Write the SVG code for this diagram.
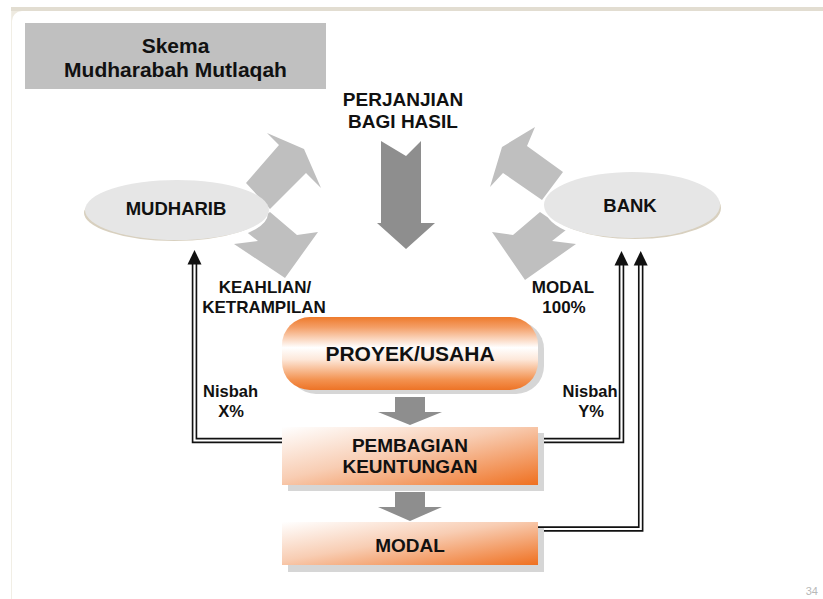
<svg xmlns="http://www.w3.org/2000/svg" xmlns:xlink="http://www.w3.org/1999/xlink" width="823" height="599" viewBox="0 0 823 599">
<style>
text{font-family:"Liberation Sans",Arial,Helvetica,sans-serif;font-weight:bold;fill:#111;text-anchor:middle}
.t21{font-size:21px}
.t19{font-size:19px}
.t185{font-size:18.5px}
.t17{font-size:17px}
.t165{font-size:16.5px}
.side{fill:#bfbfbf}
.dark{fill:#8e8e8e}
.dl-o{fill:none;stroke:#111;stroke-width:5.5;stroke-linejoin:miter}
.dl-i{fill:none;stroke:#fff;stroke-width:2.2;stroke-linejoin:miter}
.shadow{fill:#d6d6d6}
.rim{fill:#d8d0bf;stroke:#fff;stroke-width:4}
.disc{fill:#e6e6e6}
</style>
<defs>
<linearGradient id="pill" x1="0" y1="0" x2="0" y2="1">
<stop offset="0" stop-color="#ee7a2c"/>
<stop offset="0.14" stop-color="#f49e66"/>
<stop offset="0.42" stop-color="#ffffff"/>
<stop offset="0.58" stop-color="#fde8da"/>
<stop offset="0.86" stop-color="#f39250"/>
<stop offset="1" stop-color="#ed7326"/>
</linearGradient>
<linearGradient id="box" x1="0" y1="0" x2="1" y2="1">
<stop offset="0" stop-color="#ffffff"/>
<stop offset="0.45" stop-color="#f8cdb3"/>
<stop offset="1" stop-color="#ef7020"/>
</linearGradient>
<path id="ah" d="M0,0 L7,14.5 L-7,14.5 Z" fill="#111"/>
</defs>

<rect width="823" height="599" fill="#fff"/>
<rect x="11" y="7" width="812" height="4" fill="#e2ddd1"/>
<rect x="11" y="11" width="1" height="588" fill="#f1eee5"/>
<path d="M12,11 H22 A10,10 0 0 0 12,21 Z" fill="#eeeae0"/>
<text x="818" y="595" style="font-size:11px;font-weight:normal;fill:#b8b8b8;text-anchor:end">34</text>

<g id="title">
<rect x="25" y="23" width="301" height="66" fill="#c0c0c0"/>
<text class="t21" x="175.5" y="53">Skema</text>
<text class="t21" x="175.5" y="77">Mudharabah Mutlaqah</text>
</g>

<g id="connectors">
<polygon class="side" points="246,183 279,145 267,133 304,149 321,188 306,173 270,209"/>
<polygon class="side" points="270,212 297,235 318,232 285,278 234,244 258,241 244,230"/>
<polygon class="side" points="563,172 527,146 535,127 502,147 490,187 503,173 542,200"/>
<polygon class="side" points="540,212 513,235 492,232 525,280 576,244 552,241 566,230"/>
<polygon class="dark" points="381,141 406,156 421,141 421,223 435,223 406,249 377,223 381,223"/>
<polygon class="dark" points="395,397 425,397 425,412 442,412 410,425 378,412 395,412"/>
<polygon class="dark" points="395,492 425,492 425,507 442,507 410,521 378,507 395,507"/>

<path class="dl-o" d="M283,440.5 H194.5 V262"/>
<path class="dl-i" d="M283,440.5 H194.5 V262"/>
<path class="dl-o" d="M538,440.5 H621.5 V262"/>
<path class="dl-i" d="M538,440.5 H621.5 V262"/>
<path class="dl-o" d="M538,529 H640.7 V262"/>
<path class="dl-i" d="M538,529 H640.7 V262"/>
<use xlink:href="#ah" x="194.5" y="250"/>
<use xlink:href="#ah" x="621.5" y="251"/>
<use xlink:href="#ah" x="640.7" y="251"/>

<text class="t19" x="403" y="106">PERJANJIAN</text>
<text class="t19" x="403" y="128">BAGI HASIL</text>
<text class="t17" x="265" y="293">KEAHLIAN/</text>
<text class="t17" x="264" y="313">KETRAMPILAN</text>
<text class="t17" x="563" y="293">MODAL</text>
<text class="t17" x="564" y="313">100%</text>
<text class="t165" x="230.5" y="397">Nisbah</text>
<text class="t165" x="231" y="417">X%</text>
<text class="t165" x="590" y="397">Nisbah</text>
<text class="t165" x="591" y="417">Y%</text>
</g>

<g id="mudharib">
<ellipse class="rim" cx="174" cy="213" rx="92" ry="30"/>
<ellipse class="disc" cx="177" cy="210" rx="92" ry="30"/>
<text class="t185" x="176" y="215">MUDHARIB</text>
</g>

<g id="bank">
<ellipse class="rim" cx="635" cy="208" rx="88" ry="33"/>
<ellipse class="disc" cx="632" cy="205" rx="88" ry="33"/>
<text class="t185" x="630" y="212">BANK</text>
</g>

<g id="proyek">
<rect class="shadow" x="288" y="321" width="256" height="73" rx="28"/>
<rect x="282" y="317" width="256" height="73" rx="28" fill="url(#pill)"/>
<text class="t21" x="410" y="361">PROYEK/USAHA</text>
</g>

<g id="pembagian">
<rect class="shadow" x="288" y="433" width="256" height="58"/>
<rect x="282" y="427" width="256" height="58" fill="url(#box)"/>
<text class="t19" x="410" y="452">PEMBAGIAN</text>
<text class="t19" x="410" y="473">KEUNTUNGAN</text>
</g>

<g id="modal">
<rect class="shadow" x="288" y="528" width="256" height="44"/>
<rect x="282" y="522" width="256" height="43" fill="url(#box)"/>
<text class="t19" x="410" y="552">MODAL</text>
</g>
</svg>
